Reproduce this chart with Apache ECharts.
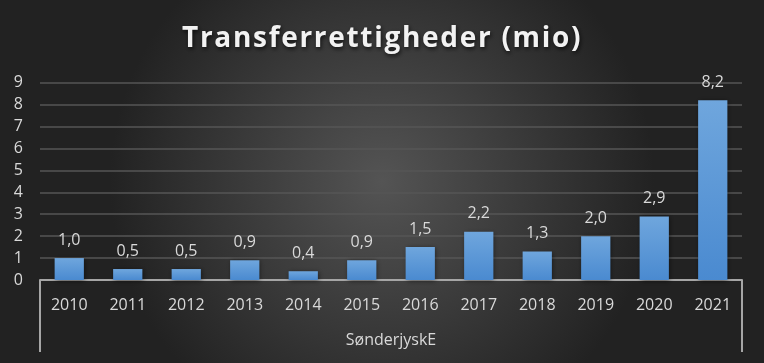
<!DOCTYPE html>
<html><head><meta charset="utf-8">
<script src="https://cdn.jsdelivr.net/npm/echarts@6/dist/echarts.min.js"></script>
<style>html,body{margin:0;padding:0;}#c{width:764px;height:363px;}</style>
</head><body><div id="c"></div>
<script>
const categories = ['2010','2011','2012','2013','2014','2015','2016','2017','2018','2019','2020','2021'];
const values = [1.0,0.5,0.5,0.9,0.4,0.9,1.5,2.2,1.3,2.0,2.9,8.2];
const groupLabel = ['SønderjyskE'];
const titleText = 'Transferrettigheder (mio)';

// apply letter spacing to the title text only
(function () {
  const P = CanvasRenderingContext2D.prototype;
  const origFill = P.fillText, origStroke = P.strokeText;
  function wrap(orig) {
    return function (t, x, y, m) {
      if (t === titleText && 'letterSpacing' in this) {
        const prev = this.letterSpacing;
        this.letterSpacing = '1.7px';
        const r = orig.call(this, t, x, y, m);
        this.letterSpacing = prev;
        return r;
      }
      return orig.apply(this, arguments);
    };
  }
  P.fillText = wrap(origFill);
  P.strokeText = wrap(origStroke);
})();

const chart = echarts.init(document.getElementById('c'));
const font = '"Open Sans", "Noto Sans", sans-serif';
chart.setOption({
  animation: false,
  backgroundColor: {
    type: 'radial', x: 0.5, y: 0.5, r: 0.75,
    colorStops: [{offset: 0, color: '#545454'}, {offset: 1, color: '#222222'}]
  },
  title: {
    text: titleText, left: 177, top: 20,
    textStyle: {color: '#f2f2f2', fontSize: 28, fontWeight: 'bold', fontFamily: font,
      textShadowColor: 'rgba(0,0,0,0.7)', textShadowBlur: 4, textShadowOffsetX: 1, textShadowOffsetY: 2}
  },
  grid: {left: 40, right: 22, top: 82.7, bottom: 83},
  xAxis: [{
    type: 'category', data: categories, position: 'bottom',
    axisLine: {lineStyle: {color: '#a6a6a6', width: 2}},
    axisTick: {show: false},
    axisLabel: {color: '#d9d9d9', fontSize: 16, fontFamily: font, margin: 17}
  }, {
    type: 'category', data: groupLabel, position: 'bottom',
    axisLine: {show: false},
    axisTick: {show: true, length: 72, lineStyle: {color: '#a6a6a6', width: 2}},
    axisLabel: {color: '#d9d9d9', fontSize: 16, fontFamily: font, margin: 52}
  }],
  yAxis: {
    type: 'value', min: 0, max: 9, interval: 1,
    axisLine: {show: false}, axisTick: {show: false},
    axisLabel: {color: '#d9d9d9', fontSize: 16, fontFamily: font, margin: 17},
    splitLine: {lineStyle: {color: '#565656', width: 1.5}}
  },
  series: [{
    type: 'bar', data: values, xAxisIndex: 0, barWidth: '50%',
    itemStyle: {
      color: {type: 'linear', x: 0, y: 0, x2: 0, y2: 1,
        colorStops: [{offset: 0, color: '#6fa6dd'}, {offset: 1, color: '#4a8ad0'}]},
      shadowColor: 'rgba(0,0,0,0.5)', shadowBlur: 5, shadowOffsetX: 1, shadowOffsetY: 1
    },
    label: {show: true, position: 'top', distance: 10, color: '#d9d9d9', fontSize: 16, fontFamily: font,
      formatter: p => p.value.toFixed(1).replace('.', ',')}
  }]
});
</script></body></html>
